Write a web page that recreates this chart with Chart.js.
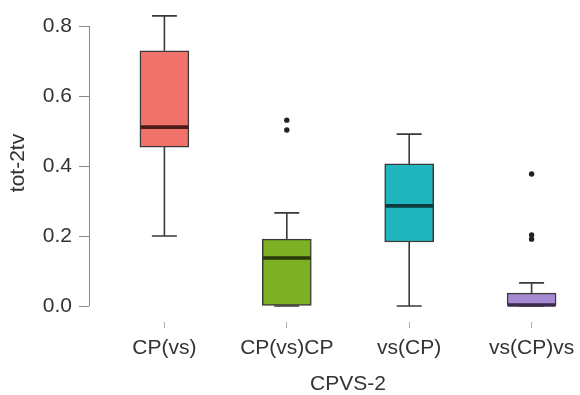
<!DOCTYPE html>
<html>
<head>
<meta charset="utf-8">
<script src="https://cdn.jsdelivr.net/npm/chart.js@4/dist/chart.umd.min.js"></script>
<style>
  html, body { margin: 0; padding: 0; background: #fff; overflow: hidden; }
  .frame { width: 580px; height: 395px; overflow: hidden; }
  /* plot region runs past the right edge of the frame */
  .wrap { position: relative; width: 611px; height: 395px; }
</style>
</head>
<body>
<div class="frame"><div class="wrap"><canvas id="chart"></canvas></div></div>
<script>
// Five-number summaries per group
const categories = ["CP(vs)", "CP(vs)CP", "vs(CP)", "vs(CP)vs"];
const whiskerLow = [0.200, 0.000, 0.000, 0.000];
const q1 = [0.454, 0.000, 0.183, 0.000];
const median = [0.511, 0.137, 0.286, 0.003];
const q3 = [0.729, 0.191, 0.406, 0.037];
const whiskerHigh = [0.829, 0.266, 0.491, 0.066];
const outliers = [[], [0.503, 0.531], [], [0.191, 0.203, 0.377]];
const yTicks = [0, 0.2, 0.4, 0.6, 0.8];

const fills = ["#f0736b", "#7db022", "#20b6bf", "#a68bd2"];
const medianColors = ["#4a1c19", "#283a0c", "#0c3c3f", "#3b2c4c"];
const ink = "#333";
const font = { family: "'Liberation Sans', Arial, sans-serif", size: 21 };

// whiskers, caps and medians on top of the bars
const boxExtras = {
  id: "boxExtras",
  afterDatasetsDraw(chart) {
    const { ctx, scales: { x, y } } = chart;
    ctx.save();
    categories.forEach((_, i) => {
      const cx = x.getPixelForValue(i + 1);
      ctx.strokeStyle = "#3a3a3a";
      ctx.lineWidth = 1.6;
      ctx.beginPath();
      ctx.moveTo(cx, y.getPixelForValue(q3[i]));
      ctx.lineTo(cx, y.getPixelForValue(whiskerHigh[i]));
      ctx.moveTo(cx, y.getPixelForValue(q1[i]));
      ctx.lineTo(cx, y.getPixelForValue(whiskerLow[i]));
      [whiskerHigh[i], whiskerLow[i]].forEach(v => {
        const py = y.getPixelForValue(v);
        ctx.moveTo(cx - 12.5, py);
        ctx.lineTo(cx + 12.5, py);
      });
      ctx.stroke();
      ctx.strokeStyle = medianColors[i];
      ctx.lineWidth = 3.6;
      ctx.beginPath();
      const my = y.getPixelForValue(median[i]);
      ctx.moveTo(cx - 24, my);
      ctx.lineTo(cx + 24, my);
      ctx.stroke();
    });
    // y axis line spans the first to last tick only
    ctx.strokeStyle = "#8a8a8a";
    ctx.lineWidth = 1;
    ctx.beginPath();
    ctx.moveTo(y.right + 0.5, y.getPixelForValue(yTicks[0]));
    ctx.lineTo(y.right + 0.5, y.getPixelForValue(yTicks[yTicks.length - 1]));
    ctx.stroke();
    ctx.restore();
  }
};

const outlierPoints = [];
outliers.forEach((vals, i) => vals.forEach(v => outlierPoints.push({ x: i + 1, y: v })));

new Chart(document.getElementById("chart"), {
  type: "bar",
  data: {
    datasets: [
      {
        data: categories.map((_, i) => ({ x: i + 1, y: [q1[i], q3[i]] })),
        backgroundColor: fills,
        borderColor: "#3a3a3a",
        borderWidth: 1.5,
        borderSkipped: false,
        barThickness: 49
      },
      {
        type: "scatter",
        data: outlierPoints,
        pointRadius: 2.7,
        pointBackgroundColor: "#222",
        pointBorderWidth: 0
      }
    ]
  },
  options: {
    responsive: true,
    maintainAspectRatio: false,
    animation: false,
    layout: { padding: { top: 3, right: 0, left: 0, bottom: 0 } },
    plugins: { legend: { display: false }, tooltip: { enabled: false } },
    scales: {
      x: {
        type: "linear",
        offset: false,
        min: 0.384,
        max: 4.616,
        afterFit: s => { s.height = 73; s.paddingLeft = 0; s.paddingRight = 0; },
        afterBuildTicks: s => { s.ticks = categories.map((_, i) => ({ value: i + 1 })); },
        ticks: {
          callback: v => categories[v - 1],
          color: ink,
          font,
          padding: 8,
          maxRotation: 0,
          autoSkip: false
        },
        grid: { offset: false, drawOnChartArea: false, drawTicks: true, tickLength: 6, color: "#b0b0b0" },
        border: { display: false },
        title: {
          display: true,
          text: "CPVS-2",
          color: ink,
          font: { ...font, lineHeight: 1 },
          padding: { top: 0, bottom: 0 }
        }
      },
      y: {
        min: -0.0457,
        max: 0.8629,
        afterFit: s => { s.width = 89; s.paddingTop = 0; s.paddingBottom = 0; },
        afterBuildTicks: s => { s.ticks = yTicks.map(v => ({ value: v })); },
        ticks: { callback: v => v.toFixed(1), color: ink, font, padding: 7 },
        grid: { drawOnChartArea: false, drawTicks: true, tickLength: 10, color: "#8a8a8a" },
        border: { display: false },
        title: {
          display: true,
          text: "tot-2tv",
          color: ink,
          font: { ...font, lineHeight: 1 },
          padding: { top: 8, bottom: 0 }
        }
      }
    }
  },
  plugins: [boxExtras]
});
</script>
</body>
</html>
